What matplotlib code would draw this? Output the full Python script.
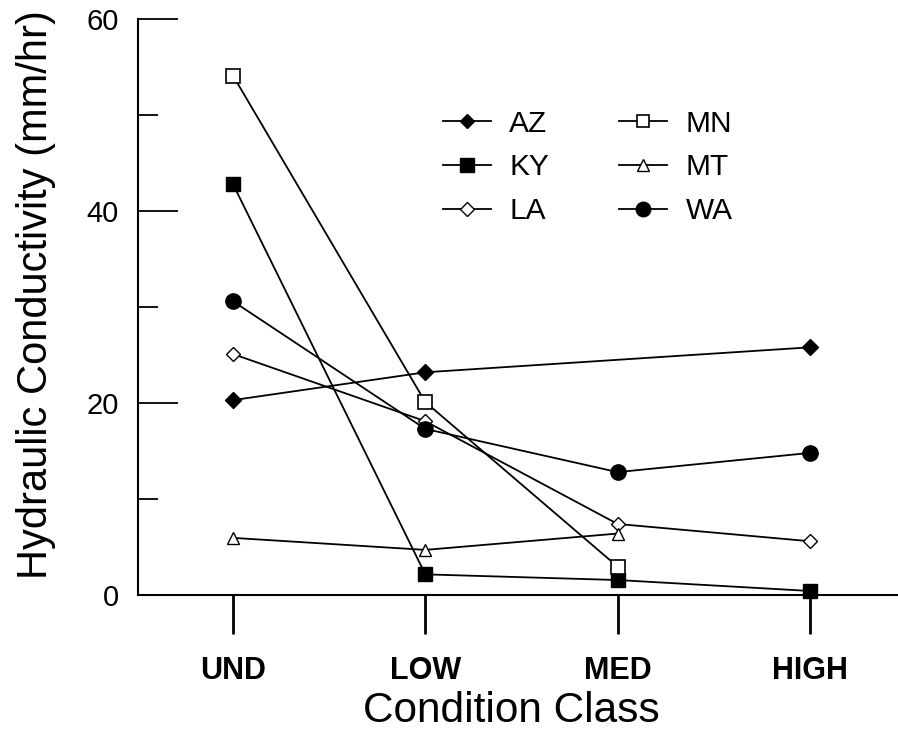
import matplotlib
matplotlib.use("Agg")
import matplotlib.pyplot as plt
import numpy as np

plt.rcParams['font.family'] = ['Liberation Sans', 'DejaVu Sans']

categories = ["UND", "LOW", "MED", "HIGH"]
AZ = [20.3, 23.2, None, 25.8]
KY = [42.8, 2.15, 1.56, 0.42]
LA = [25.1, 18.1, 7.4, 5.6]
MN = [54.1, 20.1, 2.95, None]
MT = [5.95, 4.7, 6.4, None]
WA = [30.6, 17.3, 12.8, 14.8]

series = [
    ("AZ", AZ, dict(marker='D', mfc='black', mec='black', ms=8)),
    ("KY", KY, dict(marker='s', mfc='black', mec='black', ms=10)),
    ("LA", LA, dict(marker='D', mfc='white', mec='black', ms=7, mew=1.0)),
    ("MN", MN, dict(marker='s', mfc='white', mec='black', ms=9.5, mew=1.2)),
    ("MT", MT, dict(marker='^', mfc='white', mec='black', ms=8.5, mew=1.0)),
    ("WA", WA, dict(marker='o', mfc='black', mec='black', ms=11)),
]

fig = plt.figure(figsize=(8.98, 7.31), dpi=100)
W, H = 898, 731
ax = fig.add_axes([138 / W, (H - 595) / H, (898 - 138) / W, (595 - 19) / H])

x = np.arange(len(categories))
handles = []
for name, vals, st in series:
    xs = [xi for xi, v in zip(x, vals) if v is not None]
    ys = [v for v in vals if v is not None]
    h, = ax.plot(xs, ys, color='black', lw=1.3, label=name, clip_on=False, zorder=3, **st)
    handles.append(h)

ax.set_xlim(-0.494, 3.458)
ax.set_ylim(0, 60)
ax.spines['top'].set_visible(False)
ax.spines['right'].set_visible(False)
ax.spines['left'].set_linewidth(1.5)
ax.spines['bottom'].set_linewidth(1.5)

ax.set_yticks([0, 20, 40, 60])
ax.set_yticks([10, 30, 50], minor=True)
ax.tick_params(axis='y', which='major', direction='in', length=29, width=1.3, labelsize=21, pad=14)
ax.tick_params(axis='y', which='minor', direction='in', length=14.5, width=1.3)
ax.set_xticks(x)
ax.set_xticklabels(categories, fontweight='bold')
ax.tick_params(axis='x', which='major', direction='out', length=28, width=2, labelsize=22, pad=16)

ax.set_ylabel("Hydraulic Conductivity (mm/hr)", fontsize=30, va='center')
ax.yaxis.set_label_coords((36 - 138) / 760, (595 - 295) / 576)
ax.set_xlabel("Condition Class", fontsize=30.5, va='center')
ax.xaxis.set_label_coords((511.5 - 138) / 760, (595 - 711) / 576)

leg = ax.legend(handles=handles, ncol=2, frameon=False, loc='upper left',
                bbox_to_anchor=(422 / W, 1 - 89 / H), bbox_transform=fig.transFigure,
                fontsize=21.5, handlelength=1.6, handletextpad=0.62, columnspacing=2.35,
                labelspacing=0.52, markerscale=0.95, borderpad=0.2)

fig.savefig("out.png", dpi=100)
